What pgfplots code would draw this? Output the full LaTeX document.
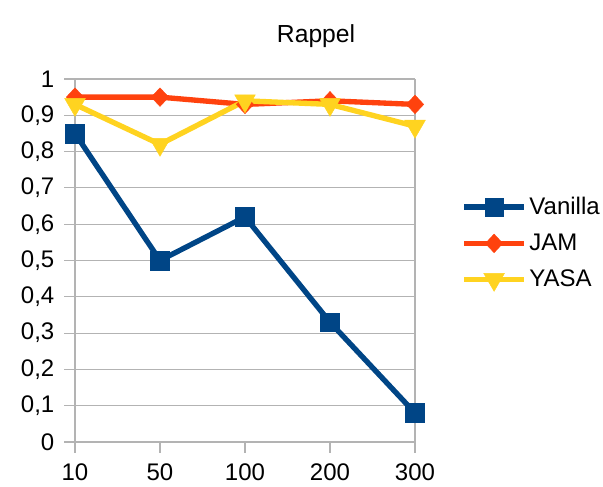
\documentclass[border=0pt]{standalone}
\usepackage{pgfplots}
\pgfplotsset{compat=1.18}
\usepackage{fontspec}
\setmainfont{Liberation Sans}

\definecolor{cVan}{HTML}{004586}
\definecolor{cJam}{HTML}{FF420E}
\definecolor{cYasa}{HTML}{FFD320}
\definecolor{cGrid}{HTML}{B3B3B3}

\begin{document}
\begin{tikzpicture}[x=1pt,y=1pt]
\begin{axis}[
  name=main,
  anchor=south west,
  at={(0,0)},
  scale only axis,
  width=255pt, height=272.25pt,
  xmin=0, xmax=4, ymin=0, ymax=1,
  xtick={0,1,2,3,4},
  xticklabels={10,50,100,200,300},
  ytick={0,0.1,...,1.01},
  /pgf/number format/.cd, use comma, fixed, precision=1, assume math mode=true,
  /pgfplots/.cd,
  tick style={draw=cGrid, line width=0.8pt},
  tick align=outside,
  major tick length=8pt,
  xtick pos=bottom, ytick pos=left,
  ymajorgrids,
  grid style={draw=cGrid, line width=0.8pt},
  axis line style={draw=cGrid, line width=0.8pt},
  axis x line*=bottom,
  axis y line*=left,
  tick label style={font=\fontsize{18}{21}\selectfont},
  xticklabel style={yshift=-5pt},
  yticklabel style={xshift=-4pt},
  title={Rappel},
  title style={font=\fontsize{18.5}{21}\selectfont, at={(axis description cs:0.709,1.095)}, anchor=center},
  clip=false,
  legend style={draw=none, fill=none, at={(axis description cs:1.124,0.548)}, anchor=west,
    font=\fontsize{18}{21}\selectfont, row sep=9pt,
    /tikz/every even column/.append style={column sep=4pt}},
  legend cell align=left,
  legend image code/.code={\draw[#1, mark repeat=2, mark phase=2] plot coordinates {(0pt,0pt) (22.5pt,0pt) (45pt,0pt)};},
]
\draw[cGrid, line width=0.8pt] (axis cs:4,0) -- (axis cs:4,1);
\addplot[cVan, line width=4pt, mark=square*, mark size=7pt, mark options={solid, line width=0.3pt}]
  coordinates {(0,0.85) (1,0.50) (2,0.62) (3,0.33) (4,0.08)};
\addlegendentry{Vanilla}
\addplot[cJam, line width=4pt, mark=diamond*, mark size=7pt, mark options={solid, line width=0.3pt, xscale=1.25}]
  coordinates {(0,0.95) (1,0.95) (2,0.93) (3,0.94) (4,0.93)};
\addlegendentry{JAM}
\addplot[cYasa, line width=4pt, mark=triangle*, mark size=9pt, mark options={solid, line width=0.3pt, rotate=180}]
  coordinates {(0,0.93) (1,0.82) (2,0.94) (3,0.93) (4,0.87)};
\addlegendentry{YASA}
\end{axis}
\pgfresetboundingbox
\path (-56.25pt,-33pt) rectangle (396pt,331.5pt);
\end{tikzpicture}
\end{document}
